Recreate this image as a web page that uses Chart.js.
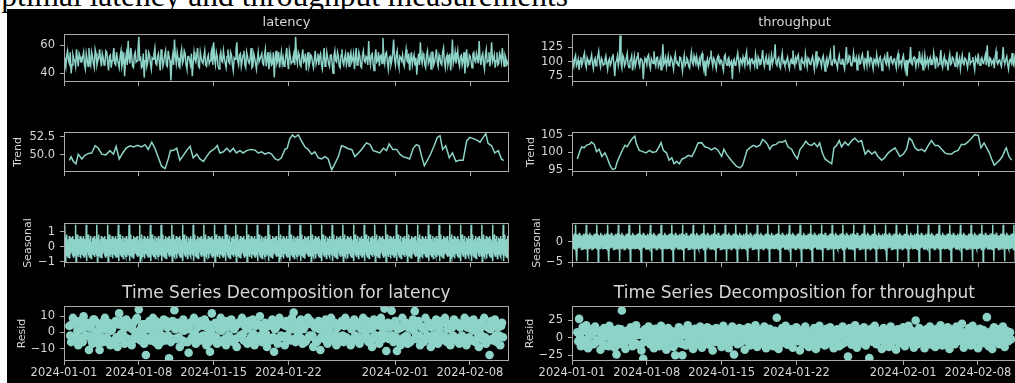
<!DOCTYPE html>
<html>
<head>
<meta charset="utf-8">
<script src="https://cdn.jsdelivr.net/npm/chart.js@4.4.1/dist/chart.umd.min.js"></script>
<style>
  html, body { margin: 0; padding: 0; width: 1015px; height: 383px; overflow: hidden; background: #fff; }
  #suptitle { position: absolute; right: 447px; top: -20px; font-family: "Liberation Serif", serif; font-size: 31.5px; line-height: 1; color: #000; white-space: nowrap; }
  #figure { position: absolute; left: 7px; top: 9px; width: 1008px; height: 374px; background: #000; }
  canvas { position: absolute; }
</style>
</head>
<body>
<div id="suptitle">Suboptimal latency and throughput measurements</div>
<div id="figure"></div>
<script>
// ---- DATA (hourly index, 2024-01-01 00:00 = hour 0) ----
const lastHour = 999;
const xTickHours = [0, 168, 336, 504, 744, 912];
const xTickLabels = ['2024-01-01', '2024-01-08', '2024-01-15', '2024-01-22', '2024-02-01', '2024-02-08'];

// observed series, one reading every 2 hours
const obsStep = 2;
const latencyObserved = [
  51,47, 44,53, 56,49, 47,55, 40,46, 53,50, 49,45, 57,51, 45,54, 52,48,
  48,52, 55,46, 43,54, 50,45, 58,49, 46,55, 52,47, 44,57, 54,46, 49,51,
  57,50, 45,54, 51,46, 47,56, 55,48, 42,52, 53,44, 49,53, 58,47, 46,55,
  50,47, 44,52, 56,45, 48,55, 38,49, 54,46, 63,51, 47,58, 52,45, 44,53,
  55,48, 49,56, 66,50, 51,44, 45,54, 37,49, 57,45, 48,55, 53,47, 43,51,
  50,54, 58,47, 46,52, 54,48, 42,57, 52,45, 48,53, 56,46, 45,56, 51,49,
  35,48, 53,46, 64,52, 47,55, 51,45, 44,53, 57,47, 49,56, 54,46, 43,52,
  52,49, 46,54, 38,47, 55,50, 48,53, 58,45, 44,55, 51,48, 47,52, 56,46,
  45,51, 53,47, 49,54, 57,46, 62,50, 46,55, 52,45, 43,52, 55,49, 48,56,
  51,47, 44,52, 57,48, 47,55, 53,46, 42,51, 50,56, 62,49, 46,53, 54,45,
  49,53, 56,46, 44,55, 52,48, 47,51, 58,44, 45,54, 51,47, 43,50, 55,48,
  48,52, 54,47, 46,53, 57,45, 50,55, 43,49, 53,46, 47,55, 37,50, 56,47,
  49,55, 44,50, 55,47, 51,45, 46,53, 58,48, 43,56, 52,47, 48,51, 54,46,
  66,51, 47,55, 53,46, 45,52, 57,48, 49,54, 42,50, 55,45, 48,53, 52,47,
  44,50, 56,47, 50,54, 46,52, 54,46, 43,51, 58,45, 47,55, 51,47, 45,53,
  53,47, 40,52, 56,49, 48,55, 52,45, 44,53, 57,48, 46,51, 54,46, 49,55,
  45,52, 55,48, 50,54, 43,50, 58,46, 47,55, 52,45, 44,53, 56,49, 48,52,
  51,46, 63,50, 46,53, 54,47, 42,51, 57,48, 49,55, 45,52, 53,47, 65,51,
  47,54, 55,48, 43,51, 52,46, 49,55, 64,50, 46,53, 56,47, 44,52, 51,49,
  53,47, 45,52, 57,49, 48,54, 42,50, 55,46, 50,53, 46,51, 39,48, 54,46,
  62,50, 47,54, 52,46, 44,53, 56,47, 49,52, 43,55, 55,46, 48,52, 57,48,
  45,53, 51,47, 46,55, 58,48, 44,51, 53,46, 49,54, 42,50, 64,47, 50,55,
  47,51, 56,48, 45,52, 53,46, 49,55, 40,50, 57,45, 46,53, 52,48, 44,54,
  55,49, 48,54, 51,47, 63,50, 46,52, 54,47, 43,53, 57,48, 49,55, 45,51,
  62,48, 50,53, 44,49, 55,46, 47,54, 52,48, 58,51, 45,53, 51,46, 47,50
];
const throughputObserved = [
  104,98, 92,106, 111,93, 97,104, 86,101, 108,94, 99,109, 115,96, 90,107, 103,95,
  95,105, 112,97, 88,102, 106,93, 100,109, 118,99, 91,106, 102,94, 96,103, 110,98,
  87,101, 105,94, 98,108, 113,96, 75,99, 101,110, 94,103, 145,97, 89,111, 107,93,
  97,106, 114,95, 90,101, 103,110, 85,97, 109,92, 99,108, 116,98, 92,105, 104,100,
  70,96, 106,102, 95,109, 112,94, 88,105, 101,97, 118,100, 93,107, 108,92, 97,104,
  86,103, 130,95, 99,107, 91,101, 110,93, 96,108, 104,96, 87,105, 113,98, 100,94,
  93,108, 107,97, 84,101, 111,94, 98,106, 103,92, 89,104, 116,99, 95,110, 102,96,
  108,97, 91,104, 97,110, 114,95, 86,102, 75,99, 105,93, 99,107, 119,101, 92,106,
  103,95, 88,106, 110,99, 96,103, 101,92, 85,109, 112,97, 94,104, 107,94, 98,101,
  70,99, 104,94, 95,107, 115,100, 89,105, 102,96, 108,101, 93,109, 117,95, 97,103,
  91,104, 106,98, 100,93, 113,101, 87,108, 104,95, 96,106, 120,99, 92,103, 109,96,
  98,107, 85,100, 111,96, 103,109, 130,97, 94,104, 107,93, 89,105, 115,98, 101,94,
  96,103, 108,95, 88,101, 104,97, 119,99, 93,106, 100,108, 112,96, 86,102, 106,98,
  99,94, 114,102, 91,106, 103,96, 95,104, 109,99, 87,101, 118,93, 97,107, 105,100,
  92,105, 110,97, 84,100, 106,94, 100,108, 116,95, 94,103, 128,99, 102,96, 89,104,
  111,98, 96,103, 104,95, 88,106, 125,97, 99,110, 107,94, 93,102, 115,100, 101,107,
  86,102, 109,96, 97,108, 113,99, 91,105, 103,93, 119,101, 95,107, 106,97, 88,104,
  101,96, 112,100, 94,105, 108,97, 85,103, 104,109, 98,95, 117,101, 92,106, 110,99,
  96,104, 105,97, 89,107, 114,95, 100,101, 93,106, 111,98, 87,103, 75,94, 102,100,
  125,97, 95,106, 108,101, 91,103, 104,96, 118,100, 97,108, 86,99, 112,94, 99,105,
  93,102, 107,95, 101,98, 115,104, 88,107, 105,93, 96,105, 120,97, 90,103, 109,96,
  102,99, 85,104, 113,95, 97,108, 106,98, 92,103, 117,94, 100,106, 88,101, 111,97,
  95,106, 104,98, 90,103, 116,96, 99,101, 108,95, 86,107, 103,99, 114,97, 94,104,
  107,98, 97,105, 112,94, 128,101, 91,107, 105,96, 100,103, 89,108, 118,99, 96,102,
  103,97, 92,106, 125,100, 98,104, 109,95, 87,102, 104,98, 115,96, 93,107, 100,101
];

// trend (centred moving average)
const latencyTrendHours = [
  12, 16, 21, 27, 32, 40, 47, 55, 62, 70, 77, 85, 94, 103, 111, 117, 124, 132, 139, 148,
  156, 165, 174, 182, 189, 197, 204, 212, 219, 227, 234, 239, 245, 253, 260, 268, 275, 283, 290, 298,
  305, 313, 320, 328, 339, 344, 350, 358, 365, 373, 380, 387, 395, 402, 410, 419, 429, 436, 444, 451,
  459, 466, 474, 481, 488, 496, 501, 507, 513, 518, 526, 533, 541, 548, 556, 563, 571, 578, 586, 593,
  601, 608, 616, 623, 631, 638, 646, 653, 661, 668, 679, 687, 694, 702, 709, 717, 724, 730, 738, 747,
  754, 761, 769, 776, 784, 791, 797, 803, 809, 816, 824, 831, 838, 844, 850, 857, 865, 872, 880, 887,
  896, 904, 911, 919, 926, 934, 941, 947, 952, 960, 967, 975, 982, 987
];
const latencyTrend = [
  49.2, 49.7, 49.05, 48.7, 50.07, 49.4, 49.9, 50.17, 50.24, 51.25, 50.9, 50.07, 49.97, 50.57, 50.07, 51.15, 49.4, 50.24, 50.9, 51.25,
  51.08, 51.3, 51.08, 51.4, 50.74, 51.76, 50.9, 49.56, 48.38, 48.04, 49.4, 50.57, 50.57, 50.9, 49.22, 49.9, 50.57, 51.18, 49.56, 50.07,
  49.4, 49.05, 49.73, 50.4, 50.9, 51.3, 50.24, 50.4, 50.9, 50.4, 50.9, 50.24, 50.57, 50.24, 50.57, 50.74, 50.64, 50.24, 50.4, 50.07,
  50.3, 50.07, 49.4, 49.22, 49.56, 50.74, 50.9, 52.26, 52.77, 52.43, 52.77, 51.93, 51.08, 50.74, 50.07, 50.4, 49.56, 49.4, 49.73, 49.4,
  47.87, 48.7, 49.73, 51.25, 51.08, 50.84, 50.74, 49.73, 50.24, 50.74, 51.66, 51.42, 50.57, 50.4, 50.24, 50.9, 50.57, 51.52, 50.74, 50.74,
  50.07, 49.73, 49.56, 49.4, 50.9, 51.42, 51.25, 49.73, 48.45, 49.22, 50.24, 51.25, 52.43, 52.67, 50.74, 51.25, 49.56, 50.24, 49.05, 49.22,
  49.22, 51.93, 52.43, 52.26, 52.09, 51.76, 52.43, 52.94, 51.59, 51.25, 50.24, 50.57, 49.4, 49.16
];
const throughputTrendHours = [
  12, 18, 22, 27, 33, 39, 44, 50, 55, 61, 67, 74, 79, 85, 91, 97, 102, 108, 114, 119,
  124, 130, 136, 141, 145, 151, 159, 166, 174, 181, 189, 194, 200, 205, 212, 218, 224, 229, 235, 241,
  247, 254, 261, 269, 276, 283, 291, 298, 306, 313, 321, 328, 336, 341, 347, 355, 362, 369, 377, 383,
  388, 393, 399, 407, 414, 422, 428, 433, 439, 444, 450, 458, 465, 473, 479, 485, 493, 500, 506, 512,
  519, 525, 531, 538, 544, 551, 556, 562, 568, 575, 583, 588, 594, 600, 605, 613, 620, 628, 635, 643,
  650, 658, 665, 673, 680, 687, 695, 702, 710, 717, 725, 731, 736, 744, 751, 757, 763, 770, 777, 785,
  792, 800, 807, 815, 822, 830, 837, 844, 852, 859, 867, 874, 882, 889, 897, 904, 912, 918, 925, 931,
  937, 942, 948, 954, 960, 966, 972, 975, 981, 987
];
const throughputTrend = [
  98.1, 100.56, 101.6, 101.3, 102.1, 102.3, 103.0, 102.3, 100.2, 100.9, 98.8, 99.86, 98.45, 96.3, 95.07, 95.3, 97.4, 99.15, 100.9, 102.0,
  101.6, 103.0, 104.1, 104.65, 102.3, 100.56, 100.2, 99.86, 100.56, 100.0, 100.2, 101.3, 102.8, 100.56, 99.86, 97.75, 98.45, 96.7, 97.4, 96.7,
  98.1, 98.45, 99.15, 98.8, 100.56, 102.7, 102.8, 101.6, 101.3, 100.7, 101.3, 100.56, 98.8, 100.9, 99.5, 98.1, 97.0, 96.0, 95.5, 96.3,
  98.45, 100.56, 101.3, 102.0, 101.6, 102.1, 103.7, 103.2, 102.3, 100.9, 102.0, 102.3, 103.0, 103.0, 103.4, 101.6, 100.9, 99.15, 98.1, 100.9,
  102.0, 103.2, 102.3, 102.0, 102.7, 101.6, 102.7, 99.86, 98.1, 97.4, 96.7, 101.3, 102.0, 103.4, 101.6, 103.0, 102.0, 103.4, 104.1, 103.0,
  103.4, 99.5, 100.56, 99.5, 100.2, 98.8, 97.75, 98.45, 99.86, 100.56, 101.3, 100.0, 98.8, 99.5, 100.9, 104.1, 103.4, 101.3, 100.56, 100.9,
  100.2, 102.0, 103.4, 102.0, 102.0, 100.9, 99.86, 99.5, 99.5, 100.2, 100.56, 102.3, 102.3, 103.0, 104.1, 105.1, 104.9, 101.3, 102.7, 101.3,
  99.86, 98.1, 96.3, 97.0, 97.75, 98.8, 100.56, 101.3, 98.8, 97.75
];

// seasonal component: one daily profile (hours 0..23), repeats every day
const latencySeasonalDay = [0.4, -0.6, 1.45, -0.98, 0.6, -0.4, 0.8, -0.6, 0.4, -0.7, 0.5, -0.5,
  0.7, -0.8, 0.3, -0.5, 0.6, -0.4, 0.5, -0.6, 0.7, -0.7, 0.5, -0.5];
const throughputSeasonalDay = [1.5, -1.8, 1.9, -1.6, 1.5, -1.6, 2.0, -1.9, 4.05, -1.6, 1.8, -4.75,
  1.6, -1.6, 1.4, -1.7, 2.1, -1.5, 1.7, -1.4, 1.5, -1.9, 1.3, -1.8];

// residuals, every 2 hours from hour 12
const residStart = 12;
const residStep = 2;
const latencyResid = [
  4,-2, -6,5, 9,-4, -3,6, 7,1, -8,-3, 2,7, -5,-6, 10,3, -2,5, 6,-2, -10.9,4, 3,-5, -7,8, 8,-1, -4,6, 1,-7, -10.9,2, 5,-3, -6,7,
  9,2, -3,-6, 6,4, -8,1, 2,-7, -5,6, 7,-3, -9,5, 11.8,-4, -1,7, 4,-2, -7,3, 8,-5, -4,6, 3,-6, -8,2, 6,-4, -2,8, 9,-3, 14.2,1,
  -5,3, 5,-2, -7,5, -14,-4, 2,6, 7,-5, -3,4, 9,-1, -6,7, 4,-3, -8,2, 6,-6, -2,5, 8,-3, -5,7, 3,-2, -16,4, -6,6, 7,-4, 13.8,2,
  -4,6, 5,-3, -9,4, 2,-5, 8,1, -6,3, 4,-6, -12.6,2, 6,-4, -3,7, 9,-1, -7,5, 3,-3, -5,6, 7,-5, -2,4, 8,-2, -8,3, 5,-6, -12,1,
  11.8,-2, -4,5, 6,-3, -7,4, 2,-6, 9,1, -5,7, 4,-4, -8,3, 7,-2, -3,6, 8,-5, -6,2, 3,-4, -9,5, 6,-3, -2,7, 9,-1, -5,4, 4,-6,
  -7,2, 7,-5, -3,6, 8,-1, -8,4, 5,-3, -4,5, 10,-2, -6,3, 2,-6, 6,-1, -9,4, 4,-4, -5,6, 8,-3, -12,2, 3,-5, -7,5, 9,-3, -2,6,
  5,-3, -8,4, 7,-2, -4,5, 2,-5, 9,2, 12.4,-4, -6,3, 6,-1, -3,6, 8,-4, -7,2, 4,-6, -5,5, 9,-3, -2,7, 6,-2, -9,4, 3,-5, -6,3,
  7,2, -10.9,-3, 5,6, -4,1, 8,-5, -7,4, 2,-2, 9,-4, -5,5, 6,-1, -8,3, 4,-6, -3,5, 7,-2, -6,4, 9,-3, -4,6, 5,-5, -8,2, 3,-4,
  8,-2, -5,4, 6,-3, -7,5, 2,-4, 9,1, -3,6, 7,-3, -6,2, 4,-5, -9,3, 8,-2, -2,6, 5,-4, -7,4, 9,-1, -4,5, 14.8,3, -11.5,-2, 6,-4,
  3,5, 13.4,-2, -6,4, 7,-3, -11.5,2, 4,-5, -8,3, 9,-4, -3,6, 6,-2, -7,3, 5,-6, -5,4, 8,1, 13.2,-3, -4,5, 7,-2, -8,4, 3,-5, -6,2,
  9,-3, -2,5, 6,-4, -9,3, 4,-2, -5,6, 8,-1, -7,4, 2,-5, 7,-2, -4,6, 9,-3, -6,2, 5,-4, -8,5, 3,-2, 8,-3, -5,6, 6,-4, -7,3,
  4,-2, -3,6, 9,-4, -8,3, 7,-3, -5,5, 2,-5, 8,1, -6,4, 5,-3, -9,2, 6,-2, -4,5, 9,-3, -7,4, 3,-5, -14,2, 7,-4, -5,6, 8,-2,
  -6,3, 4,-2, -8,4, 6,-3
];
const throughputResid = [
  8,-5, 27,3, -12,9, 15,-8, -6,11, 18,-2, -15,7, 3,-10, 12,4, -9,13, 16,-6, -4,10, 9,-3, -17,5, 6,-9, 14,2, -11,8, 2,-12, 17,1, -7,11,
  11,-4, -14,8, -23.8,2, 13,-9, -8,12, 39,-3, 5,-7, -16,6, 10,-2, -3,11, 15,-5, -12,3, 7,-8, 18,4, -10,9, 4,-11, -18,5, -30,-6, 12,-1, -5,10,
  16,3, -9,-6, 8,12, -15,4, 13,-7, 2,9, -12,5, 17,-3, -6,8, 10,-11, -17,2, 14,-5, -4,10, 9,-2, -13,7, -25,-8, 6,11, 15,-4, -8,5, -25,-9,
  11,4, -11,7, 18,-5, -3,10, 7,-9, -16,3, 13,-4, -7,8, 4,-10, 16,2, -14,6, 9,-3, -2,11, 15,-7, -10,4, 12,-2, -18,9, 5,-6, 14,3, -6,12,
  10,-3, -13,6, 17,2, -4,-8, 8,11, -15,5, 3,-6, 16,-2, -23.8,7, 11,-4, -9,9, 14,-7, -1,5, 12,-3, -17,8, 6,-5, 15,1, -11,6, 9,-9, -5,10,
  18,2, -13,7, 4,-6, 11,-2, -8,10, 16,-4, -15,5, 7,-9, 13,3, -3,8, -12,4, 10,-5, 28.6,6, -16,3, 5,-8, 14,-1, -7,11, 17,-6, -10,7, 2,-4,
  12,-5, -14,4, 8,-3, 15,9, -5,6, -18,2, 11,-7, -9,5, 16,-2, 3,-8, -13,6, 9,-4, -6,10, 14,-3, -16,7, 6,-9, 17,3, -4,8, 10,-5, -11,4,
  13,3, -8,6, 15,-4, -2,8, -15,2, 9,-5, 12,1, -12,7, 4,-9, 16,4, -7,5, 11,-3, -26.7,6, 14,-2, -10,9, 7,-6, 18,2, -14,7, 5,-8, 12,-3,
  -3,7, 15,-6, -11,3, 8,-4, -29,5, 13,-2, -6,9, 17,-7, -9,4, 10,-3, 4,8, -16,2, 14,-6, -5,10, 11,-4, -13,6, 16,-8, -2,5, 9,-3, -17,2,
  12,-4, -8,9, 6,-3, 15,2, -12,6, 3,-7, 17,4, -6,8, 10,-5, -14,5, 24.8,3, -9,7, 14,-6, -4,9, 8,-2, -15,4, 12,-8, -1,6, 16,2, -10,-5,
  7,4, -13,5, 13,-6, -5,8, 18,-3, -11,6, 9,-4, -7,10, 15,-2, -16,3, 5,-7, 12,2, -9,6, 16,-5, -3,9, 10,-4, 20,3, -14,5, 8,-9, -6,7,
  14,-2, -11,6, 17,-5, -2,9, 6,-3, -15,4, 13,-6, -8,7, 11,2, -4,-8, 29.5,5, -12,3, 9,-4, -16,6, 15,-2, -6,8, 12,-5, -9,3, 7,-7, 16,4,
  -13,5, 10,-3, -5,7, 8,-2
];

// y axis ranges and ticks
const latencyObsRange = [33.8, 67.9], latencyObsTicks = [40, 60], latencyObsLabels = ['40', '60'];
const latencyTrendRange = [47.55, 53.2], latencyTrendTicks = [50, 52.5], latencyTrendLabels = ['50.0', '52.5'];
const latencySeasRange = [-1.1, 1.58], latencySeasTicks = [-1, 0, 1], latencySeasLabels = ['\u22121', '0', '1'];
const latencyResidRange = [-17.75, 16.4], latencyResidTicks = [-10, 0, 10], latencyResidLabels = ['\u221210', '0', '10'];
const thruObsRange = [65, 147.5], thruObsTicks = [75, 100, 125], thruObsLabels = ['75', '100', '125'];
const thruTrendRange = [94.3, 105.9], thruTrendTicks = [95, 100, 105], thruTrendLabels = ['95', '100', '105'];
const thruSeasRange = [-5.2, 4.5], thruSeasTicks = [-5, 0], thruSeasLabels = ['\u22125', '0'];
const thruResidRange = [-33.1, 45.4], thruResidTicks = [-25, 0, 25], thruResidLabels = ['\u221225', '0', '25'];

// ---- STYLE / LAYOUT ----
const LINE = '#8dd3c7';
const FRAME = '#aaaaaa';
const TEXT = '#d6d6d6';
const PLOT_W = 445, PLOT_H = 55, AXIS_W = 57;
const colLeft = [7, 515];
const rowTop = [34, 124, 215, 306];

Chart.defaults.font.family = "'DejaVu Sans'";

const framePlugin = {
    id: 'frame',
    afterDraw(chart) {
        const { ctx, chartArea: a } = chart;
        ctx.save();
        ctx.strokeStyle = FRAME;
        ctx.lineWidth = 1;
        ctx.strokeRect(Math.round(a.left) + 0.5, Math.round(a.top) + 0.5,
            Math.round(a.right - a.left) - 1, Math.round(a.bottom - a.top) - 1);
        ctx.restore();
    }
};

// axes title, centred over the plot area like matplotlib does
const panelTitlePlugin = {
    id: 'panelTitle',
    afterDraw(chart, args, opts) {
        if (!opts.text) return;
        const { ctx, chartArea: a } = chart;
        ctx.save();
        ctx.fillStyle = TEXT;
        ctx.font = opts.size + "px 'DejaVu Sans'";
        ctx.textAlign = 'center';
        ctx.textBaseline = 'middle';
        ctx.fillText(opts.text, (a.left + a.right) / 2, a.top - opts.gap);
        ctx.restore();
    }
};

function lineSet(points) {
    return { data: points, showLine: true, borderColor: LINE, borderWidth: 1.5, pointRadius: 0, clip: 0 };
}

function panel(o) {
    const left = colLeft[o.col];
    const plotTop = rowTop[o.row];
    const bottomRow = o.row === 3;
    const padTop = o.title ? 30 : 4;
    const xAxisH = bottomRow ? 24 : 5;

    const canvas = document.createElement('canvas');
    canvas.width = AXIS_W + PLOT_W + 4;
    canvas.height = padTop + PLOT_H + xAxisH;
    canvas.style.left = left + 'px';
    canvas.style.top = (plotTop - padTop) + 'px';
    document.body.appendChild(canvas);

    const grid = { display: true, drawOnChartArea: false, drawTicks: true, tickLength: 4, color: FRAME };

    new Chart(canvas.getContext('2d'), {
        type: 'scatter',
        data: { datasets: o.datasets },
        plugins: [framePlugin, panelTitlePlugin],
        options: {
            responsive: false,
            animation: false,
            events: [],
            layout: { padding: { top: padTop, right: 4, left: 0, bottom: 0 } },
            plugins: {
                legend: { display: false },
                tooltip: { enabled: false },
                panelTitle: { text: o.title, size: o.titleSize, gap: o.titleGap }
            },
            scales: {
                x: {
                    type: 'linear', min: 0, max: lastHour,
                    afterBuildTicks: s => { s.ticks = xTickHours.map(v => ({ value: v })); },
                    afterFit: s => { s.height = xAxisH; },
                    grid: grid,
                    border: { display: false },
                    ticks: {
                        display: bottomRow, color: TEXT, font: { size: 11.5 }, padding: 1,
                        maxRotation: 0, autoSkip: false,
                        callback: (v, i) => xTickLabels[i]
                    }
                },
                y: {
                    type: 'linear', min: o.range[0], max: o.range[1],
                    afterBuildTicks: s => { s.ticks = o.ticks.map(v => ({ value: v })); },
                    afterFit: s => { s.width = AXIS_W; },
                    grid: grid,
                    border: { display: false },
                    ticks: { color: TEXT, font: { size: 11.5 }, padding: 5, callback: (v, i) => o.labels[i] },
                    title: {
                        display: !!o.yTitle, text: o.yTitle || '', color: TEXT,
                        font: { size: 11 }, padding: { top: o.yTitlePad || 0, bottom: 0 }
                    }
                }
            }
        }
    });
}

const obsPoints = arr => arr.map((v, i) => ({ x: i * obsStep, y: v }));
const trendPoints = (hours, vals) => hours.map((h, i) => ({ x: h, y: vals[i] }));
const seasonalPoints = day => Array.from({ length: lastHour + 1 }, (_, h) => ({ x: h, y: day[h % 24] }));
const residSet = arr => ({
    data: arr.map((v, i) => ({ x: residStart + i * residStep, y: v })),
    showLine: false, pointRadius: 4.3, pointBorderWidth: 0,
    pointBackgroundColor: LINE, pointBorderColor: LINE, clip: 0
});

// latency column
panel({ col: 0, row: 0, title: 'latency', titleSize: 13, titleGap: 11,
    range: latencyObsRange, ticks: latencyObsTicks, labels: latencyObsLabels,
    datasets: [lineSet(obsPoints(latencyObserved))] });
panel({ col: 0, row: 1, yTitle: 'Trend', yTitlePad: 5,
    range: latencyTrendRange, ticks: latencyTrendTicks, labels: latencyTrendLabels,
    datasets: [lineSet(trendPoints(latencyTrendHours, latencyTrend))] });
panel({ col: 0, row: 2, yTitle: 'Seasonal', yTitlePad: 14.5,
    range: latencySeasRange, ticks: latencySeasTicks, labels: latencySeasLabels,
    datasets: [lineSet(seasonalPoints(latencySeasonalDay))] });
panel({ col: 0, row: 3, yTitle: 'Resid', yTitlePad: 9,
    title: 'Time Series Decomposition for latency', titleSize: 17, titleGap: 12.7,
    range: latencyResidRange, ticks: latencyResidTicks, labels: latencyResidLabels,
    datasets: [residSet(latencyResid)] });

// throughput column
panel({ col: 1, row: 0, title: 'throughput', titleSize: 13, titleGap: 11,
    range: thruObsRange, ticks: thruObsTicks, labels: thruObsLabels,
    datasets: [lineSet(obsPoints(throughputObserved))] });
panel({ col: 1, row: 1, yTitle: 'Trend', yTitlePad: 10,
    range: thruTrendRange, ticks: thruTrendTicks, labels: thruTrendLabels,
    datasets: [lineSet(trendPoints(throughputTrendHours, throughputTrend))] });
panel({ col: 1, row: 2, yTitle: 'Seasonal', yTitlePad: 15.5,
    range: thruSeasRange, ticks: thruSeasTicks, labels: thruSeasLabels,
    datasets: [lineSet(seasonalPoints(throughputSeasonalDay))] });
panel({ col: 1, row: 3, yTitle: 'Resid', yTitlePad: 9,
    title: 'Time Series Decomposition for throughput', titleSize: 17, titleGap: 12.7,
    range: thruResidRange, ticks: thruResidTicks, labels: thruResidLabels,
    datasets: [residSet(throughputResid)] });
</script>
</body>
</html>
